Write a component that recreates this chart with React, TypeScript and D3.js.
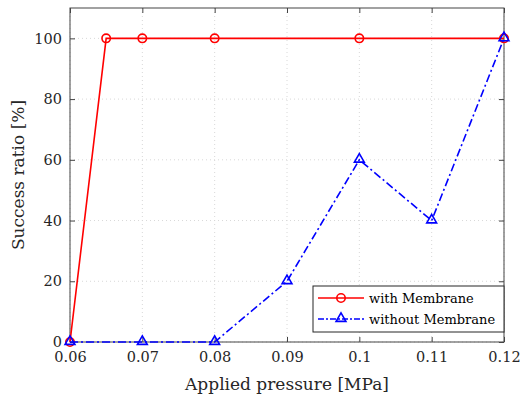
import { useRef, useEffect } from "react"
import * as d3 from "d3"

const MARGIN = { top: 8, right: 23, bottom: 55, left: 70 }
const WIDTH = 527
const HEIGHT = 397

const withX = [0.06, 0.065, 0.07, 0.08, 0.1, 0.12]
const withY = [0, 100, 100, 100, 100, 100]
const withoutX = [0.06, 0.07, 0.08, 0.09, 0.1, 0.11, 0.12]
const withoutY = [0, 0, 0, 20, 60, 40, 100]
const xTicks = [0.06, 0.07, 0.08, 0.09, 0.1, 0.11, 0.12]
const yTicks = [0, 20, 40, 60, 80, 100]

const FONT = "'DejaVu Serif', serif"

export default function App() {
  const svgRef = useRef<SVGSVGElement>(null)

  useEffect(() => {
    const svg = svgRef.current
    if (!svg) return
    d3.select(svg).selectAll("*").remove()

    const innerW = WIDTH - MARGIN.left - MARGIN.right
    const innerH = HEIGHT - MARGIN.top - MARGIN.bottom

    const root = d3.select(svg)
      .append("g")
      .attr("transform", `translate(${MARGIN.left},${MARGIN.top})`)

    const x = d3.scaleLinear().domain([0.06, 0.12]).range([0, innerW])
    const y = d3.scaleLinear().domain([0, 110]).range([innerH, 0])

    root.append("rect")
      .attr("width", innerW).attr("height", innerH)
      .attr("fill", "#fff")

    // grid
    root.append("g").selectAll("line")
      .data(xTicks)
      .join("line")
      .attr("x1", (d) => x(d)).attr("x2", (d) => x(d))
      .attr("y1", 0).attr("y2", innerH)
      .attr("stroke", "#d8d8d8").attr("stroke-dasharray", "1,3")
    root.append("g").selectAll("line")
      .data(yTicks)
      .join("line")
      .attr("x1", 0).attr("x2", innerW)
      .attr("y1", (d) => y(d)).attr("y2", (d) => y(d))
      .attr("stroke", "#d8d8d8").attr("stroke-dasharray", "1,3")

    // axes
    const styleAxis = (g: d3.Selection<SVGGElement, unknown, null, undefined>) => {
      g.select(".domain").remove()
      g.selectAll(".tick line").attr("stroke", "#444")
      g.selectAll("text")
        .attr("fill", "#262626")
        .attr("font-size", 14.5)
        .style("font-family", FONT)
    }
    root.append("g")
      .attr("transform", `translate(0,${innerH})`)
      .call(d3.axisBottom(x).tickValues(xTicks).tickSize(-5).tickPadding(10).tickFormat((d) => `${+d}`))
      .call(styleAxis)
    root.append("g")
      .call(d3.axisTop(x).tickValues(xTicks).tickSize(-5).tickFormat(() => ""))
      .call(styleAxis)
    root.append("g")
      .call(d3.axisLeft(y).tickValues(yTicks).tickSize(-5).tickPadding(8))
      .call(styleAxis)
    root.append("g")
      .attr("transform", `translate(${innerW},0)`)
      .call(d3.axisRight(y).tickValues(yTicks).tickSize(-5).tickFormat(() => ""))
      .call(styleAxis)

    root.append("rect")
      .attr("width", innerW).attr("height", innerH)
      .attr("fill", "none").attr("stroke", "#444").attr("stroke-width", 1)

    // series
    const withData = withX.map((v, i) => [v, withY[i]] as [number, number])
    const withoutData = withoutX.map((v, i) => [v, withoutY[i]] as [number, number])
    const line = d3.line<[number, number]>().x((d) => x(d[0])).y((d) => y(d[1]))

    root.append("path")
      .datum(withData)
      .attr("d", line)
      .attr("fill", "none").attr("stroke", "#ff0000").attr("stroke-width", 1.6)
    root.append("g").selectAll("circle")
      .data(withData)
      .join("circle")
      .attr("cx", (d) => x(d[0])).attr("cy", (d) => y(d[1]))
      .attr("r", 4.2)
      .attr("fill", "none").attr("stroke", "#ff0000").attr("stroke-width", 1.6)

    const tri = d3.symbol().type(d3.symbolTriangle).size(42)
    root.append("path")
      .datum(withoutData)
      .attr("d", line)
      .attr("fill", "none").attr("stroke", "#0000ff").attr("stroke-width", 1.6)
      .attr("stroke-dasharray", "8,3,2,3")
    root.append("g").selectAll("path")
      .data(withoutData)
      .join("path")
      .attr("d", tri)
      .attr("transform", (d) => `translate(${x(d[0])},${y(d[1]) - 0.5})`)
      .attr("fill", "none").attr("stroke", "#0000ff").attr("stroke-width", 1.6)

    // legend
    const lg = root.append("g").attr("transform", `translate(${313 - MARGIN.left},${286 - MARGIN.top})`)
    lg.append("rect")
      .attr("width", 191).attr("height", 46)
      .attr("fill", "#fff").attr("stroke", "#262626").attr("stroke-width", 1)
    const items = [
      { label: "with Membrane", color: "#ff0000", dash: null, marker: "circle" },
      { label: "without Membrane", color: "#0000ff", dash: "6,2,2,2", marker: "tri" },
    ]
    items.forEach((it, i) => {
      const cy = 12 + i * 21
      lg.append("line")
        .attr("x1", 5).attr("x2", 51).attr("y1", cy).attr("y2", cy)
        .attr("stroke", it.color).attr("stroke-width", 1.6)
        .attr("stroke-dasharray", it.dash)
      if (it.marker === "circle") {
        lg.append("circle").attr("cx", 28).attr("cy", cy).attr("r", 4.2)
          .attr("fill", "none").attr("stroke", it.color).attr("stroke-width", 1.6)
      } else {
        lg.append("path").attr("d", tri).attr("transform", `translate(28,${cy - 0.5})`)
          .attr("fill", "none").attr("stroke", it.color).attr("stroke-width", 1.6)
      }
      lg.append("text")
        .attr("x", 56).attr("y", cy).attr("dy", "0.35em")
        .attr("font-size", 13).style("font-family", FONT).attr("fill", "#000")
        .text(it.label)
    })

    // axis titles
    root.append("text")
      .attr("x", innerW / 2).attr("y", innerH + 48)
      .attr("text-anchor", "middle")
      .attr("font-size", 17).style("font-family", FONT).attr("fill", "#262626")
      .text("Applied pressure [MPa]")
    root.append("text")
      .attr("transform", `translate(-46,${innerH / 2}) rotate(-90)`)
      .attr("text-anchor", "middle")
      .attr("font-size", 17).style("font-family", FONT).attr("fill", "#262626")
      .text("Success ratio [%]")
  }, [])

  return (
    <svg
      ref={svgRef}
      width={WIDTH}
      height={HEIGHT}
      style={{ position: "absolute", left: 0, top: 0, display: "block", background: "#fff" }}
    />
  )
}
